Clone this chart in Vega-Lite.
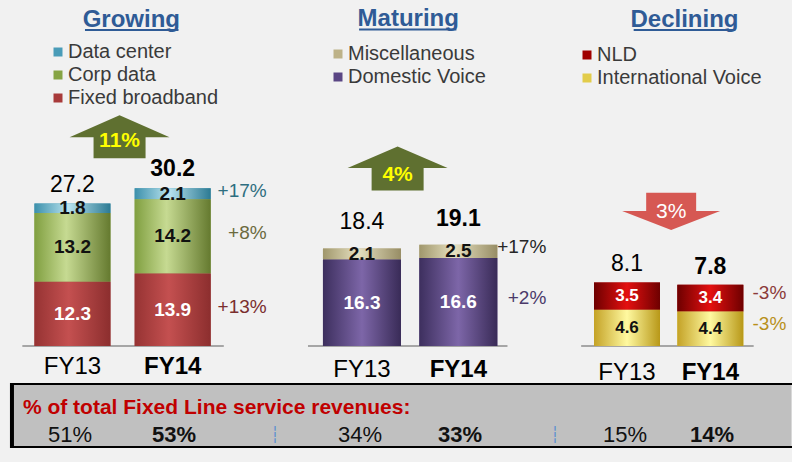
{
"$schema":"https://vega.github.io/schema/vega-lite/v6.json",
"background":"#f1f1f1",
"padding":{"left":0,"top":0,"right":0,"bottom":14},
"bounds":"flush",
"columns":3,
"spacing":{"row":16,"column":0},
"config":{"view":{"stroke":null},"font":"Liberation Sans","text":{"font":"Liberation Sans"},"legend":{"labelFont":"Liberation Sans"}},
"datasets":{
"growing":[
{"period":"FY13","fy":2013,"segment":"Fixed broadband","ord":1,"value":12.3},
{"period":"FY13","fy":2013,"segment":"Corp data","ord":2,"value":13.2},
{"period":"FY13","fy":2013,"segment":"Data center","ord":3,"value":1.8},
{"period":"FY14","fy":2014,"segment":"Fixed broadband","ord":1,"value":13.9,"growth":"+13%"},
{"period":"FY14","fy":2014,"segment":"Corp data","ord":2,"value":14.2,"growth":"+8%"},
{"period":"FY14","fy":2014,"segment":"Data center","ord":3,"value":2.1,"growth":"+17%"}],
"maturing":[
{"period":"FY13","fy":2013,"segment":"Domestic Voice","ord":1,"value":16.3},
{"period":"FY13","fy":2013,"segment":"Miscellaneous","ord":2,"value":2.1},
{"period":"FY14","fy":2014,"segment":"Domestic Voice","ord":1,"value":16.6,"growth":"+2%"},
{"period":"FY14","fy":2014,"segment":"Miscellaneous","ord":2,"value":2.5,"growth":"+17%"}],
"declining":[
{"period":"FY13","fy":2013,"segment":"International Voice","ord":1,"value":4.6},
{"period":"FY13","fy":2013,"segment":"NLD","ord":2,"value":3.5},
{"period":"FY14","fy":2014,"segment":"International Voice","ord":1,"value":4.4,"growth":"-3%"},
{"period":"FY14","fy":2014,"segment":"NLD","ord":2,"value":3.4,"growth":"-3%"}],
"periods":[
{"group":"Growing","period":"FY13","fy":2013,"total":27.2,"share":0.51},
{"group":"Growing","period":"FY14","fy":2014,"total":30.2,"share":0.53},
{"group":"Maturing","period":"FY13","fy":2013,"total":18.4,"share":0.34},
{"group":"Maturing","period":"FY14","fy":2014,"total":19.1,"share":0.33},
{"group":"Declining","period":"FY13","fy":2013,"total":8.1,"share":0.15},
{"group":"Declining","period":"FY14","fy":2014,"total":7.8,"share":0.14}],
"groups":[
{"group":"Growing","change":"11%"},
{"group":"Maturing","change":"4%"},
{"group":"Declining","change":"3%"}]
},
"resolve":{"scale":{"color":"independent","fill":"independent"},"legend":{"color":"independent"}},
"concat":[
{"width":276,"height":367,"data":{"name":"growing"},
"layer":[
{"data":{"name":"groups"},"transform":[{"filter":"datum.group=='Growing'"}],
"mark":{"type":"rule","color":"#a6a6a6","strokeWidth":2},
"encoding":{"x":{"datum":2012.5,"type":"quantitative","scale":{"domain":[2012.327,2014.981],"nice":false,"zero":false},"axis":null},"x2":{"datum":2014.51},
"y":{"datum":0,"type":"quantitative","scale":{"domain":[-4.02,66.28],"nice":false,"zero":false},"axis":null}}},
{"mark":{"type":"bar","width":76},
"encoding":{"x":{"field":"fy","type":"quantitative","scale":{"domain":[2012.327,2014.981],"nice":false,"zero":false},"axis":null},
"y":{"field":"value","type":"quantitative","stack":"zero","scale":{"domain":[-4.02,66.28],"nice":false,"zero":false},"axis":null},
"order":{"field":"ord","type":"quantitative"},
"color":{"field":"segment","type":"nominal","scale":{"domain":["Data center","Corp data","Fixed broadband"],"range":["#4a9cb8","#86a444","#a83a3a"]},
"legend":{"orient":"none","legendX":48,"legendY":42,"title":null,"symbolType":"square","symbolSize":81,"symbolStrokeWidth":0,"labelFontSize":20,"labelColor":"#3a3a3a","labelOffset":0,"rowPadding":3,"padding":0,"labelLimit":300}}}},
{"transform":[{"stack":"value","groupby":["fy"],"sort":[{"field":"ord","order":"ascending"}],"as":["v0","v1"]},{"filter":"datum.segment=='Data center'"}],
"mark":{"type":"bar","width":76,"color":{"gradient":"linear","x1":0,"y1":0,"x2":1,"y2":0,"stops":[{"offset":0,"color":"#3c90ab"},{"offset":0.45,"color":"#b9e3ef"},{"offset":1,"color":"#2c7a93"}]}},
"encoding":{"x":{"field":"fy","type":"quantitative","scale":{"domain":[2012.327,2014.981],"nice":false,"zero":false},"axis":null},
"y":{"field":"v0","type":"quantitative","scale":{"domain":[-4.02,66.28],"nice":false,"zero":false},"axis":null},"y2":{"field":"v1"}}},
{"transform":[{"stack":"value","groupby":["fy"],"sort":[{"field":"ord","order":"ascending"}],"as":["v0","v1"]},{"filter":"datum.segment=='Corp data'"}],
"mark":{"type":"bar","width":76,"color":{"gradient":"linear","x1":0,"y1":0,"x2":1,"y2":0,"stops":[{"offset":0,"color":"#809f40"},{"offset":0.42,"color":"#c6da92"},{"offset":1,"color":"#657a2f"}]}},
"encoding":{"x":{"field":"fy","type":"quantitative","scale":{"domain":[2012.327,2014.981],"nice":false,"zero":false},"axis":null},
"y":{"field":"v0","type":"quantitative","scale":{"domain":[-4.02,66.28],"nice":false,"zero":false},"axis":null},"y2":{"field":"v1"}}},
{"transform":[{"stack":"value","groupby":["fy"],"sort":[{"field":"ord","order":"ascending"}],"as":["v0","v1"]},{"filter":"datum.segment=='Fixed broadband'"}],
"mark":{"type":"bar","width":76,"color":{"gradient":"linear","x1":0,"y1":0,"x2":1,"y2":0,"stops":[{"offset":0,"color":"#963333"},{"offset":0.45,"color":"#c45050"},{"offset":1,"color":"#8c2e2e"}]}},
"encoding":{"x":{"field":"fy","type":"quantitative","scale":{"domain":[2012.327,2014.981],"nice":false,"zero":false},"axis":null},
"y":{"field":"v0","type":"quantitative","scale":{"domain":[-4.02,66.28],"nice":false,"zero":false},"axis":null},"y2":{"field":"v1"}}},
{"mark":{"type":"text","fontSize":19,"fontWeight":"bold","baseline":"middle"},
"encoding":{"x":{"field":"fy","type":"quantitative","scale":{"domain":[2012.327,2014.981],"nice":false,"zero":false},"axis":null},
"y":{"field":"value","type":"quantitative","stack":"zero","bandPosition":0.5,"scale":{"domain":[-4.02,66.28],"nice":false,"zero":false},"axis":null},
"order":{"field":"ord","type":"quantitative"},
"text":{"field":"value","type":"quantitative","format":".1f"},
"color":{"condition":{"test":"datum.segment=='Fixed broadband'","value":"#ffffff"},"value":"#111111"}}},
{"transform":[{"filter":"datum.fy==2014"}],
"mark":{"type":"text","fontSize":19,"align":"right","baseline":"middle","dx":94,"dy":-3},
"encoding":{"x":{"field":"fy","type":"quantitative","scale":{"domain":[2012.327,2014.981],"nice":false,"zero":false},"axis":null},
"y":{"field":"value","type":"quantitative","stack":"zero","bandPosition":0.5,"scale":{"domain":[-4.02,66.28],"nice":false,"zero":false},"axis":null},
"order":{"field":"ord","type":"quantitative"},
"text":{"field":"growth","type":"nominal"},
"fill":{"field":"segment","type":"nominal","scale":{"domain":["Data center","Corp data","Fixed broadband"],"range":["#2e6e80","#6b6a3e","#7a2e2e"]},"legend":null}}},
{"data":{"name":"periods"},"transform":[{"filter":"datum.group=='Growing'"}],
"mark":{"type":"text","fontSize":23,"baseline":"alphabetic","dy":-12,"color":"#000000","fontWeight":{"expr":"datum.fy==2014 ? 'bold' : 'normal'"}},
"encoding":{"x":{"field":"fy","type":"quantitative","scale":{"domain":[2012.327,2014.981],"nice":false,"zero":false},"axis":null},
"y":{"field":"total","type":"quantitative","scale":{"domain":[-4.02,66.28],"nice":false,"zero":false},"axis":null},
"text":{"field":"total","type":"quantitative","format":".1f"}}},
{"data":{"name":"periods"},"transform":[{"filter":"datum.group=='Growing'"}],
"mark":{"type":"text","fontSize":24,"baseline":"alphabetic","dy":28,"color":"#000000","fontWeight":{"expr":"datum.fy==2014 ? 'bold' : 'normal'"}},
"encoding":{"x":{"field":"fy","type":"quantitative","scale":{"domain":[2012.327,2014.981],"nice":false,"zero":false},"axis":null},
"y":{"datum":0,"type":"quantitative","scale":{"domain":[-4.02,66.28],"nice":false,"zero":false},"axis":null},
"text":{"field":"period","type":"nominal"}}},
{"data":{"name":"groups"},"transform":[{"filter":"datum.group=='Growing'"}],
"mark":{"type":"point","shape":"M0,-0.44L1,0L0.52,0L0.52,0.42L-0.52,0.42L-0.52,0L-1,0Z","size":10000,"filled":true,"color":"#5f7030","opacity":1,"strokeWidth":0},
"encoding":{"x":{"datum":2013.47,"type":"quantitative","scale":{"domain":[2012.327,2014.981],"nice":false,"zero":false},"axis":null},
"y":{"datum":40.0,"type":"quantitative","scale":{"domain":[-4.02,66.28],"nice":false,"zero":false},"axis":null}}},
{"data":{"name":"groups"},"transform":[{"filter":"datum.group=='Growing'"}],
"mark":{"type":"text","fontSize":21,"fontWeight":"bold","color":"#ffff00","baseline":"middle","dy":4},
"encoding":{"x":{"datum":2013.47,"type":"quantitative","scale":{"domain":[2012.327,2014.981],"nice":false,"zero":false},"axis":null},
"y":{"datum":40.0,"type":"quantitative","scale":{"domain":[-4.02,66.28],"nice":false,"zero":false},"axis":null},
"text":{"field":"change","type":"nominal"}}},
{"data":{"name":"groups"},"transform":[{"filter":"datum.group=='Growing'"}],
"mark":{"type":"text","fontSize":24,"fontWeight":"bold","color":"#2f5b96","baseline":"alphabetic"},
"encoding":{"x":{"datum":2013.587,"type":"quantitative","scale":{"domain":[2012.327,2014.981],"nice":false,"zero":false},"axis":null},
"y":{"datum":61.11,"type":"quantitative","scale":{"domain":[-4.02,66.28],"nice":false,"zero":false},"axis":null},
"text":{"field":"group","type":"nominal"}}},
{"data":{"name":"groups"},"transform":[{"filter":"datum.group=='Growing'"}],
"mark":{"type":"rule","color":"#2f5b96","strokeWidth":2},
"encoding":{"x":{"datum":2013.125,"type":"quantitative","scale":{"domain":[2012.327,2014.981],"nice":false,"zero":false},"axis":null},"x2":{"datum":2014.058},
"y":{"datum":60.53,"type":"quantitative","scale":{"domain":[-4.02,66.28],"nice":false,"zero":false},"axis":null}}}
]},
{"width":276,"height":367,"data":{"name":"maturing"},
"layer":[
{"data":{"name":"groups"},"transform":[{"filter":"datum.group=='Maturing'"}],
"mark":{"type":"rule","color":"#a6a6a6","strokeWidth":2},
"encoding":{"x":{"datum":2012.44,"type":"quantitative","scale":{"domain":[2012.16,2014.92],"nice":false,"zero":false},"axis":null},"x2":{"datum":2014.51},
"y":{"datum":0,"type":"quantitative","scale":{"domain":[-3.96,65.28],"nice":false,"zero":false},"axis":null}}},
{"mark":{"type":"bar","width":78},
"encoding":{"x":{"field":"fy","type":"quantitative","scale":{"domain":[2012.16,2014.92],"nice":false,"zero":false},"axis":null},
"y":{"field":"value","type":"quantitative","stack":"zero","scale":{"domain":[-3.96,65.28],"nice":false,"zero":false},
"axis":{"domain":true,"domainColor":"#1fb0ec","domainDash":[7,3],"domainWidth":2.5,"ticks":false,"labels":false,"grid":false,"title":null}},
"order":{"field":"ord","type":"quantitative"},
"color":{"field":"segment","type":"nominal","scale":{"domain":["Miscellaneous","Domestic Voice"],"range":["#bdb288","#5a4684"]},
"legend":{"orient":"none","legendX":52,"legendY":44,"title":null,"symbolType":"square","symbolSize":81,"symbolStrokeWidth":0,"labelFontSize":20,"labelColor":"#3a3a3a","labelOffset":0,"rowPadding":3,"padding":0,"labelLimit":300}}}},
{"transform":[{"stack":"value","groupby":["fy"],"sort":[{"field":"ord","order":"ascending"}],"as":["v0","v1"]},{"filter":"datum.segment=='Miscellaneous'"}],
"mark":{"type":"bar","width":78,"color":{"gradient":"linear","x1":0,"y1":0,"x2":1,"y2":0,"stops":[{"offset":0,"color":"#a0976c"},{"offset":0.45,"color":"#e6e0c0"},{"offset":1,"color":"#978d65"}]}},
"encoding":{"x":{"field":"fy","type":"quantitative","scale":{"domain":[2012.16,2014.92],"nice":false,"zero":false},"axis":null},
"y":{"field":"v0","type":"quantitative","scale":{"domain":[-3.96,65.28],"nice":false,"zero":false},"axis":null},"y2":{"field":"v1"}}},
{"transform":[{"stack":"value","groupby":["fy"],"sort":[{"field":"ord","order":"ascending"}],"as":["v0","v1"]},{"filter":"datum.segment=='Domestic Voice'"}],
"mark":{"type":"bar","width":78,"color":{"gradient":"linear","x1":0,"y1":0,"x2":1,"y2":0,"stops":[{"offset":0,"color":"#3d2f5e"},{"offset":0.5,"color":"#7d66a8"},{"offset":1,"color":"#392b57"}]}},
"encoding":{"x":{"field":"fy","type":"quantitative","scale":{"domain":[2012.16,2014.92],"nice":false,"zero":false},"axis":null},
"y":{"field":"v0","type":"quantitative","scale":{"domain":[-3.96,65.28],"nice":false,"zero":false},"axis":null},"y2":{"field":"v1"}}},
{"mark":{"type":"text","fontSize":19,"fontWeight":"bold","baseline":"middle"},
"encoding":{"x":{"field":"fy","type":"quantitative","scale":{"domain":[2012.16,2014.92],"nice":false,"zero":false},"axis":null},
"y":{"field":"value","type":"quantitative","stack":"zero","bandPosition":0.5,"scale":{"domain":[-3.96,65.28],"nice":false,"zero":false},"axis":null},
"order":{"field":"ord","type":"quantitative"},
"text":{"field":"value","type":"quantitative","format":".1f"},
"color":{"condition":{"test":"datum.segment=='Domestic Voice'","value":"#ffffff"},"value":"#111111"}}},
{"transform":[{"filter":"datum.fy==2014"}],
"mark":{"type":"text","fontSize":19,"align":"right","baseline":"middle","dx":88,"dy":-4},
"encoding":{"x":{"field":"fy","type":"quantitative","scale":{"domain":[2012.16,2014.92],"nice":false,"zero":false},"axis":null},
"y":{"field":"value","type":"quantitative","stack":"zero","bandPosition":0.5,"scale":{"domain":[-3.96,65.28],"nice":false,"zero":false},"axis":null},
"order":{"field":"ord","type":"quantitative"},
"text":{"field":"growth","type":"nominal"},
"fill":{"field":"segment","type":"nominal","scale":{"domain":["Miscellaneous","Domestic Voice"],"range":["#262626","#4b3a6a"]},"legend":null}}},
{"data":{"name":"periods"},"transform":[{"filter":"datum.group=='Maturing'"}],
"mark":{"type":"text","fontSize":23,"baseline":"alphabetic","dy":-19,"color":"#000000","fontWeight":{"expr":"datum.fy==2014 ? 'bold' : 'normal'"}},
"encoding":{"x":{"field":"fy","type":"quantitative","scale":{"domain":[2012.16,2014.92],"nice":false,"zero":false},"axis":null},
"y":{"field":"total","type":"quantitative","scale":{"domain":[-3.96,65.28],"nice":false,"zero":false},"axis":null},
"text":{"field":"total","type":"quantitative","format":".1f"}}},
{"data":{"name":"periods"},"transform":[{"filter":"datum.group=='Maturing'"}],
"mark":{"type":"text","fontSize":24,"baseline":"alphabetic","dy":31,"color":"#000000","fontWeight":{"expr":"datum.fy==2014 ? 'bold' : 'normal'"}},
"encoding":{"x":{"field":"fy","type":"quantitative","scale":{"domain":[2012.16,2014.92],"nice":false,"zero":false},"axis":null},
"y":{"datum":0,"type":"quantitative","scale":{"domain":[-3.96,65.28],"nice":false,"zero":false},"axis":null},
"text":{"field":"period","type":"nominal"}}},
{"data":{"name":"groups"},"transform":[{"filter":"datum.group=='Maturing'"}],
"mark":{"type":"point","shape":"M0,-0.43L1,0L0.52,0L0.52,0.45L-0.52,0.45L-0.52,0L-1,0Z","size":10000,"filled":true,"color":"#5f7030","opacity":1,"strokeWidth":0},
"encoding":{"x":{"datum":2013.37,"type":"quantitative","scale":{"domain":[2012.16,2014.92],"nice":false,"zero":false},"axis":null},
"y":{"datum":33.58,"type":"quantitative","scale":{"domain":[-3.96,65.28],"nice":false,"zero":false},"axis":null}}},
{"data":{"name":"groups"},"transform":[{"filter":"datum.group=='Maturing'"}],
"mark":{"type":"text","fontSize":21,"fontWeight":"bold","color":"#ffff00","baseline":"middle","dy":7},
"encoding":{"x":{"datum":2013.37,"type":"quantitative","scale":{"domain":[2012.16,2014.92],"nice":false,"zero":false},"axis":null},
"y":{"datum":33.58,"type":"quantitative","scale":{"domain":[-3.96,65.28],"nice":false,"zero":false},"axis":null},
"text":{"field":"change","type":"nominal"}}},
{"data":{"name":"groups"},"transform":[{"filter":"datum.group=='Maturing'"}],
"mark":{"type":"text","fontSize":24,"fontWeight":"bold","color":"#2f5b96","baseline":"alphabetic"},
"encoding":{"x":{"datum":2013.48,"type":"quantitative","scale":{"domain":[2012.16,2014.92],"nice":false,"zero":false},"axis":null},
"y":{"datum":60.37,"type":"quantitative","scale":{"domain":[-3.96,65.28],"nice":false,"zero":false},"axis":null},
"text":{"field":"group","type":"nominal"}}},
{"data":{"name":"groups"},"transform":[{"filter":"datum.group=='Maturing'"}],
"mark":{"type":"rule","color":"#2f5b96","strokeWidth":2},
"encoding":{"x":{"datum":2012.97,"type":"quantitative","scale":{"domain":[2012.16,2014.92],"nice":false,"zero":false},"axis":null},"x2":{"datum":2013.98},
"y":{"datum":59.71,"type":"quantitative","scale":{"domain":[-3.96,65.28],"nice":false,"zero":false},"axis":null}}}
]},
{"width":240,"height":367,"data":{"name":"declining"},
"layer":[
{"data":{"name":"groups"},"transform":[{"filter":"datum.group=='Declining'"}],
"mark":{"type":"rule","color":"#a6a6a6","strokeWidth":2},
"encoding":{"x":{"datum":2012.45,"type":"quantitative","scale":{"domain":[2012.16,2014.92],"nice":false,"zero":false},"axis":null},"x2":{"datum":2014.52},
"y":{"datum":0,"type":"quantitative","scale":{"domain":[-2.68,44.08],"nice":false,"zero":false},"axis":null}}},
{"mark":{"type":"bar","width":66},
"encoding":{"x":{"field":"fy","type":"quantitative","scale":{"domain":[2012.16,2014.92],"nice":false,"zero":false},"axis":null},
"y":{"field":"value","type":"quantitative","stack":"zero","scale":{"domain":[-2.68,44.08],"nice":false,"zero":false},
"axis":{"domain":true,"domainColor":"#1fb0ec","domainDash":[7,3],"domainWidth":2.5,"ticks":false,"labels":false,"grid":false,"title":null}},
"order":{"field":"ord","type":"quantitative"},
"color":{"field":"segment","type":"nominal","scale":{"domain":["NLD","International Voice"],"range":["#a00000","#e2cc4a"]},
"legend":{"orient":"none","legendX":25,"legendY":45,"title":null,"symbolType":"square","symbolSize":81,"symbolStrokeWidth":0,"labelFontSize":20,"labelColor":"#3a3a3a","labelOffset":0,"rowPadding":3,"padding":0,"labelLimit":300}}}},
{"transform":[{"stack":"value","groupby":["fy"],"sort":[{"field":"ord","order":"ascending"}],"as":["v0","v1"]},{"filter":"datum.segment=='NLD'"}],
"mark":{"type":"bar","width":66,"color":{"gradient":"linear","x1":0,"y1":0,"x2":1,"y2":0,"stops":[{"offset":0,"color":"#6e0000"},{"offset":0.5,"color":"#e41010"},{"offset":1,"color":"#6e0000"}]}},
"encoding":{"x":{"field":"fy","type":"quantitative","scale":{"domain":[2012.16,2014.92],"nice":false,"zero":false},"axis":null},
"y":{"field":"v0","type":"quantitative","scale":{"domain":[-2.68,44.08],"nice":false,"zero":false},"axis":null},"y2":{"field":"v1"}}},
{"transform":[{"stack":"value","groupby":["fy"],"sort":[{"field":"ord","order":"ascending"}],"as":["v0","v1"]},{"filter":"datum.segment=='International Voice'"}],
"mark":{"type":"bar","width":66,"color":{"gradient":"linear","x1":0,"y1":0,"x2":1,"y2":0,"stops":[{"offset":0,"color":"#c4a226"},{"offset":0.5,"color":"#fff9a0"},{"offset":1,"color":"#b89818"}]}},
"encoding":{"x":{"field":"fy","type":"quantitative","scale":{"domain":[2012.16,2014.92],"nice":false,"zero":false},"axis":null},
"y":{"field":"v0","type":"quantitative","scale":{"domain":[-2.68,44.08],"nice":false,"zero":false},"axis":null},"y2":{"field":"v1"}}},
{"mark":{"type":"text","fontSize":17,"fontWeight":"bold","baseline":"middle"},
"encoding":{"x":{"field":"fy","type":"quantitative","scale":{"domain":[2012.16,2014.92],"nice":false,"zero":false},"axis":null},
"y":{"field":"value","type":"quantitative","stack":"zero","bandPosition":0.5,"scale":{"domain":[-2.68,44.08],"nice":false,"zero":false},"axis":null},
"order":{"field":"ord","type":"quantitative"},
"text":{"field":"value","type":"quantitative","format":".1f"},
"color":{"condition":{"test":"datum.segment=='NLD'","value":"#ffffff"},"value":"#111111"}}},
{"transform":[{"filter":"datum.fy==2014"}],
"mark":{"type":"text","fontSize":19,"align":"right","baseline":"middle","dx":76,"dy":-5},
"encoding":{"x":{"field":"fy","type":"quantitative","scale":{"domain":[2012.16,2014.92],"nice":false,"zero":false},"axis":null},
"y":{"field":"value","type":"quantitative","stack":"zero","bandPosition":0.5,"scale":{"domain":[-2.68,44.08],"nice":false,"zero":false},"axis":null},
"order":{"field":"ord","type":"quantitative"},
"text":{"field":"growth","type":"nominal"},
"fill":{"field":"segment","type":"nominal","scale":{"domain":["NLD","International Voice"],"range":["#8b3a3a","#b8901a"]},"legend":null}}},
{"data":{"name":"periods"},"transform":[{"filter":"datum.group=='Declining'"}],
"mark":{"type":"text","fontSize":23,"baseline":"alphabetic","dy":-11,"color":"#000000","fontWeight":{"expr":"datum.fy==2014 ? 'bold' : 'normal'"}},
"encoding":{"x":{"field":"fy","type":"quantitative","scale":{"domain":[2012.16,2014.92],"nice":false,"zero":false},"axis":null},
"y":{"field":"total","type":"quantitative","scale":{"domain":[-2.68,44.08],"nice":false,"zero":false},"axis":null},
"text":{"field":"total","type":"quantitative","format":".1f"}}},
{"data":{"name":"periods"},"transform":[{"filter":"datum.group=='Declining'"}],
"mark":{"type":"text","fontSize":24,"baseline":"alphabetic","dy":34,"color":"#000000","fontWeight":{"expr":"datum.fy==2014 ? 'bold' : 'normal'"}},
"encoding":{"x":{"field":"fy","type":"quantitative","scale":{"domain":[2012.16,2014.92],"nice":false,"zero":false},"axis":null},
"y":{"datum":0,"type":"quantitative","scale":{"domain":[-2.68,44.08],"nice":false,"zero":false},"axis":null},
"text":{"field":"period","type":"nominal"}}},
{"data":{"name":"groups"},"transform":[{"filter":"datum.group=='Declining'"}],
"mark":{"type":"point","shape":"M-0.51,-0.37L0.51,-0.37L0.51,0L1,0L0,0.39L-1,0L-0.51,0Z","size":9604,"filled":true,"color":"#d65853","opacity":1,"strokeWidth":0},
"encoding":{"x":{"datum":2013.53,"type":"quantitative","scale":{"domain":[2012.16,2014.92],"nice":false,"zero":false},"axis":null},
"y":{"datum":17.2,"type":"quantitative","scale":{"domain":[-2.68,44.08],"nice":false,"zero":false},"axis":null}}},
{"data":{"name":"groups"},"transform":[{"filter":"datum.group=='Declining'"}],
"mark":{"type":"text","fontSize":21,"color":"#ffffff","baseline":"middle","dy":1},
"encoding":{"x":{"datum":2013.53,"type":"quantitative","scale":{"domain":[2012.16,2014.92],"nice":false,"zero":false},"axis":null},
"y":{"datum":17.2,"type":"quantitative","scale":{"domain":[-2.68,44.08],"nice":false,"zero":false},"axis":null},
"text":{"field":"change","type":"nominal"}}},
{"data":{"name":"groups"},"transform":[{"filter":"datum.group=='Declining'"}],
"mark":{"type":"text","fontSize":24,"fontWeight":"bold","color":"#2f5b96","baseline":"alphabetic"},
"encoding":{"x":{"datum":2013.69,"type":"quantitative","scale":{"domain":[2012.16,2014.92],"nice":false,"zero":false},"axis":null},
"y":{"datum":40.64,"type":"quantitative","scale":{"domain":[-2.68,44.08],"nice":false,"zero":false},"axis":null},
"text":{"field":"group","type":"nominal"}}},
{"data":{"name":"groups"},"transform":[{"filter":"datum.group=='Declining'"}],
"mark":{"type":"rule","color":"#2f5b96","strokeWidth":2},
"encoding":{"x":{"datum":2013.08,"type":"quantitative","scale":{"domain":[2012.16,2014.92],"nice":false,"zero":false},"axis":null},"x2":{"datum":2014.30},
"y":{"datum":40.26,"type":"quantitative","scale":{"domain":[-2.68,44.08],"nice":false,"zero":false},"axis":null}}}
]},
{"width":276,"height":65,"data":{"name":"periods"},
"layer":[
{"data":{"name":"groups"},"transform":[{"filter":"datum.group=='Growing'"}],
"mark":{"type":"rect","color":"#c0c0c0"},
"encoding":{"x":{"datum":2012.442,"type":"quantitative","scale":{"domain":[2012.327,2014.981],"nice":false,"zero":false},"axis":null},"x2":{"datum":2019.938}}},
{"data":{"name":"groups"},"transform":[{"filter":"datum.group=='Growing'"}],
"mark":{"type":"rect","fill":null,"fillOpacity":0,"stroke":"#000000","strokeWidth":4,"clip":true},
"encoding":{"x":{"datum":2012.442,"type":"quantitative","scale":{"domain":[2012.327,2014.981],"nice":false,"zero":false},"axis":null},"x2":{"datum":2021}}},
{"data":{"name":"groups"},"transform":[{"filter":"datum.group=='Growing'"}],
"mark":{"type":"text","align":"left","baseline":"middle","dx":11,"fontSize":21,"fontWeight":"bold","color":"#c00000","text":"% of total Fixed Line service revenues:"},
"encoding":{"x":{"datum":2012.442,"type":"quantitative","scale":{"domain":[2012.327,2014.981],"nice":false,"zero":false},"axis":null},
"y":{"datum":"title","type":"nominal","scale":{"type":"point","domain":["title","pct"],"range":[25,52],"padding":0},"axis":null}}},
{"transform":[{"filter":"datum.group=='Growing'"}],
"mark":{"type":"text","baseline":"middle","fontSize":22,"color":"#111111","fontWeight":{"expr":"datum.fy==2014 ? 'bold' : 'normal'"}},
"encoding":{"x":{"field":"fy","type":"quantitative","scale":{"domain":[2012.327,2014.981],"nice":false,"zero":false},"axis":null},
"y":{"datum":"pct","type":"nominal","scale":{"type":"point","domain":["title","pct"],"range":[25,52],"padding":0},"axis":null},
"text":{"field":"share","type":"quantitative","format":".0%"}}}
]},
{"width":276,"height":65,"data":{"name":"periods"},
"layer":[
{"data":{"name":"groups"},"transform":[{"filter":"datum.group=='Maturing'"}],
"mark":{"type":"rect","fill":null,"fillOpacity":0,"stroke":"#000000","strokeWidth":4,"clip":true},
"encoding":{"x":{"datum":2005,"type":"quantitative","scale":{"domain":[2012.16,2014.92],"nice":false,"zero":false},"axis":null},"x2":{"datum":2022}}},
{"data":{"name":"groups"},"transform":[{"filter":"datum.group=='Maturing'"}],
"mark":{"type":"text","baseline":"middle","fontSize":16,"font":"DejaVu Sans","color":"#5b8fd0","text":"┆"},
"encoding":{"x":{"datum":2012.15,"type":"quantitative","scale":{"domain":[2012.16,2014.92],"nice":false,"zero":false},"axis":null},
"y":{"datum":"pct","type":"nominal","scale":{"type":"point","domain":["title","pct"],"range":[25,52],"padding":0},"axis":null}}},
{"transform":[{"filter":"datum.group=='Maturing'"}],
"mark":{"type":"text","baseline":"middle","fontSize":22,"color":"#111111","fontWeight":{"expr":"datum.fy==2014 ? 'bold' : 'normal'"}},
"encoding":{"x":{"field":"fy","type":"quantitative","scale":{"domain":[2012.16,2014.92],"nice":false,"zero":false},"axis":null},
"y":{"datum":"pct","type":"nominal","scale":{"type":"point","domain":["title","pct"],"range":[25,52],"padding":0},"axis":null},
"text":{"field":"share","type":"quantitative","format":".0%"}}}
]},
{"width":240,"height":65,"data":{"name":"periods"},
"layer":[
{"data":{"name":"groups"},"transform":[{"filter":"datum.group=='Declining'"}],
"mark":{"type":"rect","fill":null,"fillOpacity":0,"stroke":"#000000","strokeWidth":4,"clip":true},
"encoding":{"x":{"datum":2005,"type":"quantitative","scale":{"domain":[2012.16,2014.92],"nice":false,"zero":false},"axis":null},"x2":{"datum":2022}}},
{"data":{"name":"groups"},"transform":[{"filter":"datum.group=='Declining'"}],
"mark":{"type":"text","baseline":"middle","fontSize":16,"font":"DejaVu Sans","color":"#5b8fd0","text":"┆"},
"encoding":{"x":{"datum":2012.194,"type":"quantitative","scale":{"domain":[2012.16,2014.92],"nice":false,"zero":false},"axis":null},
"y":{"datum":"pct","type":"nominal","scale":{"type":"point","domain":["title","pct"],"range":[25,52],"padding":0},"axis":null}}},
{"transform":[{"filter":"datum.group=='Declining'"}],
"mark":{"type":"text","baseline":"middle","fontSize":22,"color":"#111111","fontWeight":{"expr":"datum.fy==2014 ? 'bold' : 'normal'"}},
"encoding":{"x":{"field":"fy","type":"quantitative","scale":{"domain":[2012.16,2014.92],"nice":false,"zero":false},"axis":null},
"y":{"datum":"pct","type":"nominal","scale":{"type":"point","domain":["title","pct"],"range":[25,52],"padding":0},"axis":null},
"text":{"field":"share","type":"quantitative","format":".0%"}}}
]}
]
}
